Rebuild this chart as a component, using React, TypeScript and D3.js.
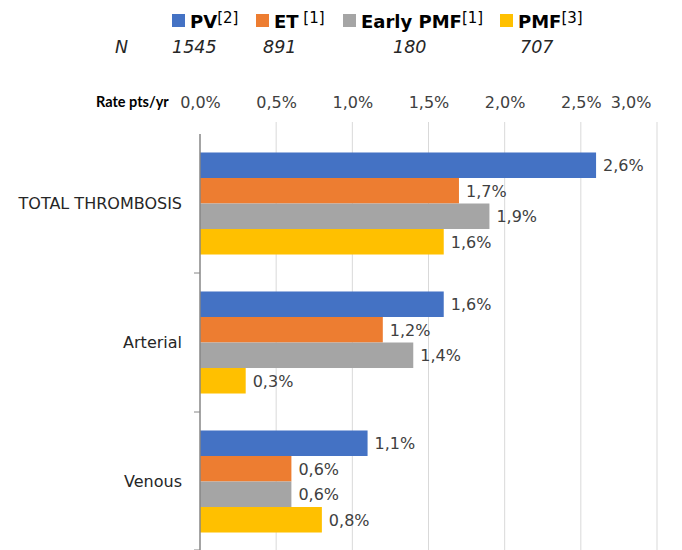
import React, { useEffect, useRef } from "react";
import * as d3 from "d3";

const categories = ["TOTAL THROMBOSIS", "Arterial", "Venous"];
const seriesNames = ["PV", "ET", "Early PMF", "PMF"];
const seriesRefs = ["[2]", " [1]", "[1]", "[3]"];
const seriesN = ["1545", "891", "180", "707"];
const seriesColors = ["#4472C4", "#ED7D31", "#A5A5A5", "#FFC000"];
// rate per patient-year, one array per series, in category order
const pvRates = [0.026, 0.016, 0.011];
const etRates = [0.017, 0.012, 0.006];
const earlyPmfRates = [0.019, 0.014, 0.006];
const pmfRates = [0.016, 0.003, 0.008];
const tickValues = [0, 0.005, 0.01, 0.015, 0.02, 0.025, 0.03];

const allRates = [pvRates, etRates, earlyPmfRates, pmfRates];

const legendX = [172, 256, 343, 500];
const nX = [172, 263, 393, 520];

const labelFont = "'DejaVu Sans', Verdana, sans-serif";
const titleFont = "Lato, Carlito, Calibri, sans-serif";

const locale = d3.formatLocale({
  decimal: ",",
  thousands: ".",
  grouping: [3],
  currency: ["", "€"],
});
const pct = locale.format(".1%");

const App = () => {
  const axisRef = useRef(null);

  const width = 682;
  const height = 550;
  const x = d3.scaleLinear().domain([0, 0.03]).range([200, 657]);
  const y = d3
    .scaleBand()
    .domain(categories)
    .range([134, 551])
    .paddingInner(0.266)
    .paddingOuter(0.133);
  const ySub = d3
    .scaleBand()
    .domain(seriesNames)
    .range([0, y.bandwidth()]);

  useEffect(() => {
    const g = d3.select(axisRef.current);
    g.call(
      d3
        .axisTop(x)
        .tickValues(tickValues)
        .tickSize(0)
        .tickPadding(0)
        .tickFormat(d => pct(d))
    );
    g.select(".domain").remove();
    g.selectAll("text")
      .attr("fill", "#404040")
      .style("font-family", labelFont)
      .style("font-size", "16px");
    // last label is pulled inside the chart area, like the original
    g.selectAll(".tick")
      .filter(d => d === tickValues[tickValues.length - 1])
      .select("text")
      .attr("text-anchor", "end")
      .attr("x", 651 - x(tickValues[tickValues.length - 1]));
  }, []);

  return (
    <svg
      width={width}
      height={height}
      style={{ position: "absolute", left: 0, top: 0, background: "#fff" }}
      fontFamily={labelFont}
    >
      {/* legend */}
      {seriesNames.map((s, i) => (
        <g key={s}>
          <rect x={legendX[i]} y={14} width={13} height={13} fill={seriesColors[i]} />
          <text x={legendX[i] + 18} y={28} fontSize={18} fontWeight="bold" fill="#000">
            {s}
            <tspan fontSize={15} fontWeight="normal" dy={-5}>
              {seriesRefs[i]}
            </tspan>
          </text>
          <text x={nX[i]} y={53} fontSize={17.5} fontStyle="italic" fill="#262626">
            {seriesN[i]}
          </text>
        </g>
      ))}
      <text x={115} y={53} fontSize={17.5} fontStyle="italic" fill="#262626">
        N
      </text>

      <text x={96} y={107} fontSize={14.5} fontWeight="bold" fill="#000" fontFamily={titleFont}>
        Rate pts/yr
      </text>

      {/* gridlines */}
      {tickValues.slice(1).map(t => (
        <line key={t} x1={x(t)} x2={x(t)} y1={122} y2={551} stroke="#D9D9D9" strokeWidth={1} />
      ))}

      <g ref={axisRef} transform="translate(0,108)" />

      {/* bars */}
      {categories.map((c, ci) => (
        <g key={c} transform={`translate(0,${y(c)})`}>
          {seriesNames.map((s, si) => {
            const v = allRates[si][ci];
            const yy = ySub(s);
            return (
              <g key={s}>
                <rect
                  x={x(0)}
                  y={yy}
                  width={x(v) - x(0)}
                  height={ySub.bandwidth()}
                  fill={seriesColors[si]}
                />
                <text
                  x={x(v) + 7}
                  y={yy + ySub.bandwidth() / 2}
                  dy="0.36em"
                  fontSize={16}
                  fill="#404040"
                >
                  {pct(v)}
                </text>
              </g>
            );
          })}
        </g>
      ))}

      {/* category labels */}
      {categories.map(c => (
        <text
          key={c}
          x={182}
          y={y(c) + y.bandwidth() / 2}
          dy="0.36em"
          textAnchor="end"
          fontSize={16}
          fill="#262626"
        >
          {c}
        </text>
      ))}

      {/* vertical axis */}
      <line x1={200} x2={200} y1={134} y2={551} stroke="#868686" strokeWidth={1.5} />
      {[...categories.map(c => y(c) - y.step() * y.paddingInner() / 2).slice(1), 550].map((t, i) => (
        <line key={i} x1={194} x2={200} y1={t} y2={t} stroke="#868686" strokeWidth={1} />
      ))}
    </svg>
  );
};

export default App;
